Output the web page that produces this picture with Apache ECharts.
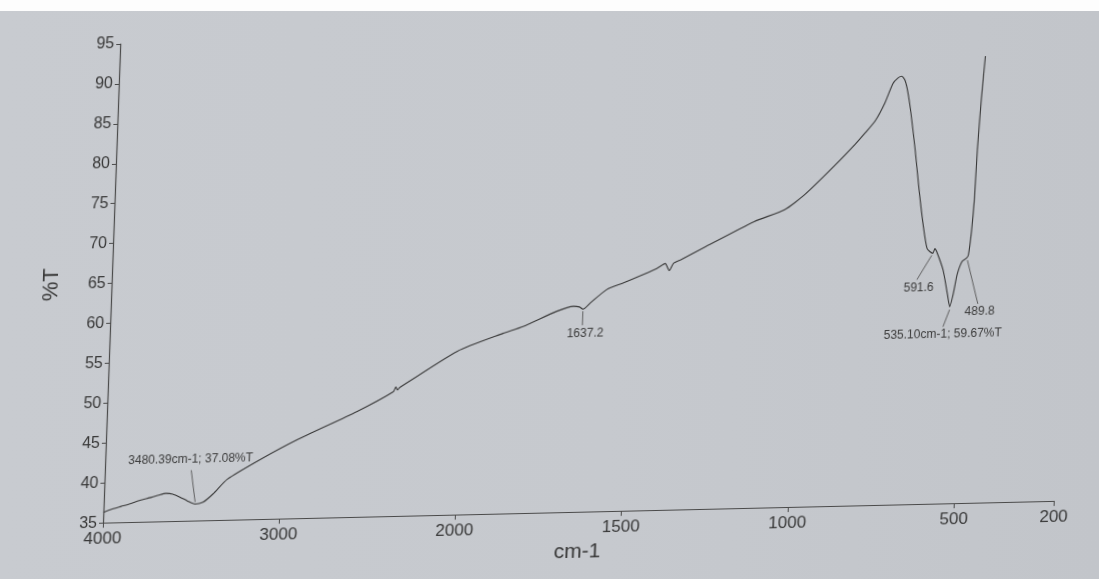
<!DOCTYPE html>
<html>
<head>
<meta charset="utf-8">
<title>FTIR spectrum</title>
<script src="https://cdn.jsdelivr.net/npm/echarts@6/dist/echarts.min.js"></script>
<style>
  html, body {
    margin: 0; padding: 0; width: 1099px; height: 579px; overflow: hidden;
    background: linear-gradient(90deg, #c8cbd0 0%, #c6c9ce 55%, #c2c5ca 100%);
  }
  #edge { position: absolute; left: 0; top: 0; width: 1099px; height: 11px; background: #fdfdfd; z-index: 2; }
  #chart {
    position: absolute; left: 0; top: 0; width: 1099px; height: 579px;
    transform-origin: 103px 524px;
    transform: matrix(1, -0.0229, -0.036, 1, 0, 0);
  }
</style>
</head>
<body>
<div id="edge"></div>
<div id="chart"></div>
<script>
// Spectrum: wavenumber (cm-1) and transmittance (%T)
const wavenumbers = [
  4000, 3950, 3900, 3850, 3794, 3740, 3690, 3648, 3610, 3568, 3525, 3480.39, 3435, 3380,
  3302, 3117, 2908, 2580, 2375, 2362, 2352, 2340, 2019, 1875, 1816, 1717, 1666, 1648,
  1637.2, 1615, 1568, 1518, 1420, 1395, 1382, 1370, 1350, 1280, 1132, 1042, 984, 896,
  837, 808, 779, 752, 730, 715, 704, 694, 684, 673, 656, 640, 624, 609,
  591.6, 586, 580, 559, 543, 535.10, 526, 516, 503, 489.8, 484.4, 477.8, 472.4, 468.8,
  462.3, 454.8
];
const transmittance = [
  36.3, 36.7, 37.0, 37.3, 37.7, 38.0, 38.3, 38.5, 38.4, 38.0, 37.5, 37.08, 37.3, 38.3,
  40.1, 42.5, 44.9, 48.2, 50.6, 51.2, 50.8, 51.1, 55.5, 57.6, 58.4, 60.2, 60.8, 60.7,
  60.4, 61.2, 62.8, 63.6, 65.3, 65.9, 65.0, 65.9, 66.3, 67.8, 70.9, 72.3, 74.1, 77.7,
  80.3, 81.7, 83.2, 85.4, 87.8, 88.5, 88.7, 88.2, 86.7, 84.2, 79.5, 74.5, 70.1, 67.0,
  66.4, 67.0, 66.6, 64.3, 61.2, 59.67, 61.2, 63.7, 65.3, 65.7, 66.1, 69.0, 73.1, 79.3,
  85.6, 91.0
];

// Axis ticks
const xTicks = [4000, 3000, 2000, 1500, 1000, 500, 200];
const yMin = 35, yMax = 95, yStep = 5;

// Labelled bands
const peakWavenumbers = [3480.39, 1637.2, 591.6, 535.10, 489.8];
const peakTransmittance = [37.08, 60.4, 66.4, 59.67, 65.7];
const peakLabels = ['3480.39cm-1; 37.08%T', '1637.2', '591.6', '535.10cm-1; 59.67%T', '489.8'];

// Leader line and label offsets (px) from each band point
const peakLayout = [
  { l0: [0, -2], l1: [-5, -34], t: [-6, -45] },
  { l0: [0, 2], l1: [0, 16], t: [3, 24] },
  { l0: [-1, 2], l1: [-15, 26], t: [-13, 34] },
  { l0: [0, 3], l1: [-6, 20], t: [-6, 28] },
  { l0: [1, 2], l1: [13, 46], t: [15, 54] }
];

// The 4000-2000 cm-1 range is drawn compressed relative to 2000-200 cm-1
const HIGH_RANGE_SCALE = 0.5285;
const BREAK = 2000;
function toAxis(wn) {
  return wn >= BREAK ? (4000 - wn) * HIGH_RANGE_SCALE
                     : (4000 - BREAK) * HIGH_RANGE_SCALE + (BREAK - wn);
}
function fromAxis(u) {
  const uBreak = (4000 - BREAK) * HIGH_RANGE_SCALE;
  return u <= uBreak ? 4000 - u / HIGH_RANGE_SCALE : BREAK - (u - uBreak);
}

const ink = '#383838';
const font = '"Liberation Sans", Arial, sans-serif';

const spectrum = wavenumbers.map((w, i) => [toAxis(w), transmittance[i]]);
const bands = peakWavenumbers.map((w, i) => [toAxis(w), peakTransmittance[i], i]);
const axisMax = toAxis(200);

const chart = echarts.init(document.getElementById('chart'), null, { renderer: 'canvas' });
chart.setOption({
  backgroundColor: 'transparent',
  animation: false,
  grid: { left: 103, top: 44, width: axisMax * 0.333, height: 480 },
  xAxis: {
    type: 'value',
    min: 0, max: axisMax,
    name: 'cm-1', nameLocation: 'middle', nameGap: 22,
    nameTextStyle: { fontFamily: font, fontSize: 21, color: ink },
    axisLine: { lineStyle: { color: '#4a4a4a', width: 1.2 } },
    axisTick: { show: true, length: 5, lineStyle: { color: '#4a4a4a' },
      customValues: xTicks.map(toAxis) },
    axisLabel: { fontFamily: font, fontSize: 17, color: ink, margin: 8,
      customValues: xTicks.map(toAxis),
      formatter: v => String(Math.round(fromAxis(v))) },
    splitLine: { show: false }
  },
  yAxis: {
    type: 'value',
    min: yMin, max: yMax, interval: yStep,
    name: '%T', nameLocation: 'middle', nameGap: 49, nameRotate: 90,
    nameTextStyle: { fontFamily: font, fontSize: 22, color: ink },
    axisLine: { show: true, lineStyle: { color: '#4a4a4a', width: 1.2 } },
    axisTick: { show: true, length: 4, lineStyle: { color: '#4a4a4a' } },
    axisLabel: { fontFamily: font, fontSize: 16, color: ink, margin: 6 },
    splitLine: { show: false }
  },
  series: [
    {
      type: 'line',
      data: spectrum,
      showSymbol: false,
      smooth: 0.2,
      lineStyle: { color: '#363636', width: 1.1 },
      z: 3
    },
    {
      type: 'custom',
      data: bands,
      z: 4,
      renderItem: function (params, api) {
        const p = api.coord([api.value(0), api.value(1)]);
        const k = api.value(2);
        const L = peakLayout[k];
        return {
          type: 'group',
          children: [
            { type: 'line',
              shape: { x1: p[0] + L.l0[0], y1: p[1] + L.l0[1], x2: p[0] + L.l1[0], y2: p[1] + L.l1[1] },
              style: { stroke: '#555', lineWidth: 0.9 } },
            { type: 'text', x: p[0] + L.t[0], y: p[1] + L.t[1],
              style: { text: peakLabels[k], fill: '#3c3c3c', fontFamily: font, fontSize: 12,
                align: 'center', verticalAlign: 'middle' } }
          ]
        };
      }
    }
  ]
});
</script>
</body>
</html>
